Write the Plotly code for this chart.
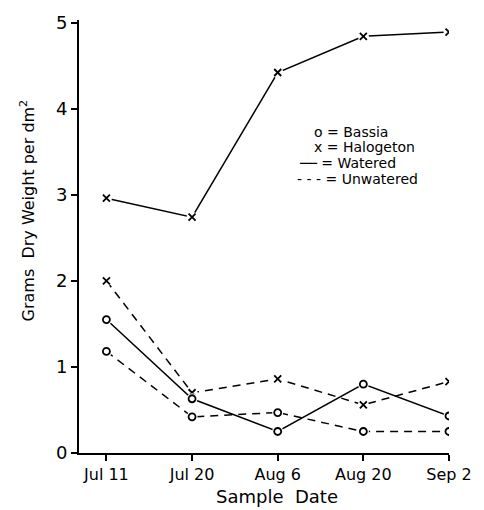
import plotly.graph_objects as go

dates = ["Jul 11", "Jul 20", "Aug 6", "Aug 20", "Sep 2"]
halogeton_watered = [2.96, 2.74, 4.42, 4.84, 4.89]
halogeton_unwatered = [2.00, 0.70, 0.86, 0.56, 0.83]
bassia_watered = [1.55, 0.63, 0.25, 0.80, 0.43]
bassia_unwatered = [1.18, 0.42, 0.47, 0.25, 0.25]
y_ticks = [0, 1, 2, 3, 4, 5]

FONT = "DejaVu Sans"
xs = list(range(len(dates)))

fig = go.Figure()

def add_series(vals, dash, sym):
    fig.add_trace(go.Scatter(
        x=xs, y=vals, mode="lines",
        line=dict(color="black", width=1.5, dash=dash),
        showlegend=False, hoverinfo="skip"))
    # white halo so lines stop short of the symbols
    fig.add_trace(go.Scatter(
        x=xs, y=vals, mode="markers",
        marker=dict(symbol="circle", size=11, color="white", line=dict(width=0)),
        showlegend=False, hoverinfo="skip"))
    symbol = "circle-open" if sym == "o" else "x-thin-open"
    fig.add_trace(go.Scatter(
        x=xs, y=vals, mode="markers",
        marker=dict(symbol=symbol, size=7, color="black", line=dict(width=1.8, color="black")),
        showlegend=False))

add_series(halogeton_watered, "solid", "x")
add_series(halogeton_unwatered, "8px,6px", "x")
add_series(bassia_watered, "solid", "o")
add_series(bassia_unwatered, "8px,6px", "o")

legend_lines = [
    ("o = Bassia", 2.40, 3.73),
    ("x = Halogeton", 2.40, 3.56),
    ("\u2500\u2500 = Watered", 2.22, 3.37),
    ("- - - = Unwatered", 2.20, 3.18),
]
for txt, xx, yy in legend_lines:
    fig.add_annotation(x=xx, y=yy, xref="x", yref="y", text=txt, showarrow=False,
                       xanchor="left", yanchor="middle",
                       font=dict(family=FONT, size=14, color="black"))

fig.add_annotation(x=-0.14, y=2.82, xref="paper", yref="y",
                   text="Grams  Dry Weight per dm<sup>2</sup>", textangle=-90,
                   showarrow=False, xanchor="center", yanchor="middle",
                   font=dict(family=FONT, size=16, color="black"))
fig.add_annotation(x=0.534, y=-0.10, xref="paper", yref="paper",
                   text="Sample  Date", showarrow=False,
                   xanchor="center", yanchor="middle",
                   font=dict(family=FONT, size=18, color="black"))

fig.update_layout(
    width=484, height=510,
    margin=dict(l=79, r=23, t=15, b=57),
    paper_bgcolor="white", plot_bgcolor="white",
    font=dict(family=FONT, color="black"),
    xaxis=dict(
        range=[-0.32, 4.0], tickvals=xs, ticktext=dates,
        showgrid=False, zeroline=False, showline=True, linecolor="black", linewidth=2,
        ticks="outside", ticklen=6, tickwidth=1.5, tickcolor="black",
        tickfont=dict(family=FONT, size=16), ticklabeloverflow="allow",
    ),
    yaxis=dict(
        range=[0, 5.03], tickvals=y_ticks,
        showgrid=False, zeroline=False, showline=True, linecolor="black", linewidth=2,
        ticks="outside", ticklen=6, tickwidth=1.5, tickcolor="black",
        tickfont=dict(family=FONT, size=18),
    ),
)

fig.write_html("out.html")
